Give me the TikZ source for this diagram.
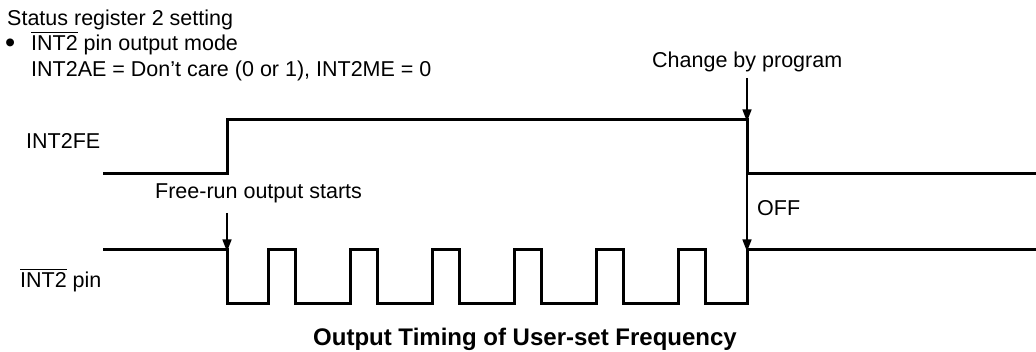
\documentclass[tikz,border=0pt]{standalone}
\usepackage{fontspec}
\setmainfont{Liberation Sans}
\usetikzlibrary{arrows.meta}
\newcommand\ovl[1]{\leavevmode\vbox{\hrule height 1.4pt\kern 2.6pt\hbox{#1}}}
\tikzset{
  lbl/.style={anchor=base west, inner sep=0pt, font=\fontsize{21.5}{26}\selectfont},
  ttl/.style={anchor=base west, inner sep=0pt, font=\fontsize{24}{28}\selectfont\bfseries},
  wave/.style={line width=3pt, line join=miter, line cap=butt},
  marker/.style={line width=1.4pt, -{Triangle[length=12pt,width=9pt]}},
}
\begin{document}
\begin{tikzpicture}[x=1pt,y=-1pt]
\useasboundingbox (0,0) rectangle (1036,352);
% texts
\node[lbl] (hdr) at (7,26) {Status register 2 setting};
\node[lbl, font=\fontsize{29}{29}\selectfont] (bul) at (5,53) {•};
\node[lbl] (mode) at (31,51) {\ovl{INT2} pin output mode};
\node[lbl] (cfg) at (31,77) {INT2AE = Don’t care (0 or 1), INT2ME = 0};
\node[lbl] (chg) at (652,68) {Change by program};
\node[lbl] (fe) at (26,149) {INT2FE};
\node[lbl] (frs) at (155,199) {Free-run output starts};
\node[lbl] (off) at (757,216) {OFF};
\node[lbl] (pin) at (20,288) {\ovl{INT2} pin};
\node[ttl] (title) at (313,346) {Output Timing of User-set Frequency};
% key coordinates
\coordinate (feStart) at (103,174);
\coordinate (feRise) at (227,174);
\coordinate (feFallTop) at (747,120);
\coordinate (feFall) at (747,174);
\coordinate (feEnd) at (1036,174);
\coordinate (pinStart) at (103,250);
\coordinate (pinFirst) at (227,250);
\coordinate (pinLast) at (747,250);
\coordinate (pinEnd) at (1036,250);
\coordinate (chgFrom) at (747,78);
\coordinate (frsFrom) at (227,213);
% INT2FE waveform
\draw[wave] (feStart) -- (feRise) -- (227,120) -- (feFallTop) -- (feFall) -- (feEnd);
% INT2 pin waveform
\draw[wave] (pinStart) -- (pinFirst) -- (227,304)
  \foreach \k in {0,...,5}{ -- ({268+82*\k},304) -- ({268+82*\k},250) -- ({295+82*\k},250) -- ({295+82*\k},304) }
  -- (747,304) -- (pinLast) -- (pinEnd);
% arrows
\draw[marker] (chgFrom) -- ([yshift=-1.5pt]feFallTop);
\draw[marker] (frsFrom) -- ([yshift=-1.5pt]pinFirst);
\draw[marker] (feFall) -- ([yshift=-1.5pt]pinLast);
\end{tikzpicture}
\end{document}
